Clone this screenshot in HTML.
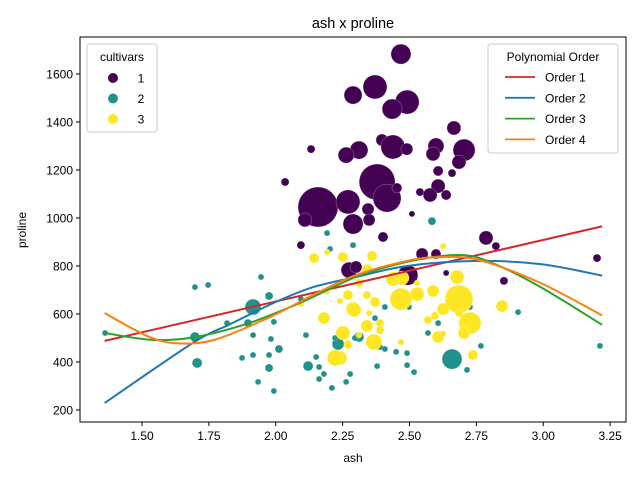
<!DOCTYPE html>
<html><head><meta charset="utf-8"><style>
body{margin:0;background:#fff;}
svg{display:block;font-family:"Liberation Sans","DejaVu Sans",sans-serif;}
</style></head><body>
<svg id="chart" width="640" height="480"></svg>
<script>
const ashC1=[2.468,2.371,2.289,2.491,2.435,2.666,2.132,2.311,2.263,2.397,2.438,2.49,2.599,2.588,2.704,2.685,2.607,2.659,2.035,2.379,2.416,2.453,2.607,2.539,2.577,2.637,2.158,2.27,2.345,2.109,2.289,2.349,2.509,2.401,2.094,2.786,2.823,2.547,2.599,3.201,2.274,2.3,2.494,2.637,2.853,2.289];
const proC1=[1683,1546,1512,1483,1454,1375,1287,1283,1262,1325,1296,1287,1300,1267,1283,1233,1196,1187,1150,1150,1083,1125,1133,1108,1096,1096,1046,1067,1037,992,975,992,1017,921,887,917,883,850,850,833,783,796,762,771,738,887];
const sizeC1=[10,12,9,12,10,7,4,9,8,6,12,6,8,7,11,7,5,4,4,18,14,5,7,4,7,5,20,12,6,7,10,6,3,5,4,7,4,6,5,4,8,6,10,3,4,3];
const ashC2=[2.192,2.203,2.289,1.698,1.747,1.945,1.975,1.915,2.094,1.818,1.896,1.362,1.698,1.915,1.993,1.982,2.113,2.012,1.874,1.915,1.975,1.706,1.975,2.121,2.151,2.162,2.18,2.162,2.21,1.934,1.993,2.263,2.278,2.233,2.222,2.311,2.408,2.498,2.371,2.607,2.569,2.726,2.906,2.296,2.39,2.408,2.45,2.491,2.767,3.212,2.659,2.379,2.491,2.517,2.715,2.584];
const proC2=[937,871,887,712,721,754,675,629,662,562,562,521,504,512,567,496,512,454,417,429,429,396,375,383,421,379,350,329,292,317,279,317,350,475,500,504,629,629,583,562,521,629,608,500,462,454,442,437,467,467,412,383,387,358,367,987];
const sizeC2=[3,3,3,3,3,3,4,8,3,3,4,3,5,3,3,3,3,4,3,3,3,5,4,5,3,3,3,3,3,3,3,3,3,6,3,5,3,3,3,3,3,3,3,3,3,3,3,3,3,3,10,3,3,3,3,4];
const ashC3=[2.626,2.251,2.36,2.341,2.472,2.438,2.678,2.311,2.528,2.588,2.528,2.468,2.685,2.27,2.341,2.371,2.289,2.626,2.846,2.349,2.569,2.595,2.685,2.726,2.704,2.341,2.39,2.39,2.251,2.607,2.626,2.367,2.468,2.311,2.27,2.737,2.24,2.143,2.192,2.24,2.293,2.18,2.094,2.222,2.27,2.192];
const proC3=[883,837,842,787,750,746,754,729,729,696,683,662,662,679,679,650,621,621,633,604,575,592,604,562,521,550,562,533,521,504,517,483,483,512,475,429,417,833,858,654,617,583,642,417,471,696];
const sizeC3=[3,5,5,5,7,7,7,4,3,6,7,11,14,5,4,5,7,6,6,3,4,4,4,11,6,6,4,4,7,6,3,8,3,3,4,5,7,5,3,3,7,6,3,8,4,3];
const fitX1=[1.36,3.22];
const fitY1=[488,965];
const fitX2=[1.36,1.69,1.83,2.0,2.14,2.3,2.49,2.74,2.99,3.22];
const fitY2=[229,479,558,650,712,754,800,821,808,760];
const fitX3=[1.36,1.54,1.7,1.9,2.09,2.3,2.49,2.68,2.8,2.99,3.22];
const fitY3=[521,492,504,562,646,754,817,846,817,712,555];
const fitX4=[1.36,1.52,1.63,1.77,1.97,2.14,2.3,2.49,2.61,2.76,2.99,3.22];
const fitY4=[604,508,478,492,583,679,762,821,837,825,729,594];
const xTicks=[1.5,1.75,2.0,2.25,2.5,2.75,3.0,3.25];
const xTickLabels=["1.50","1.75","2.00","2.25","2.50","2.75","3.00","3.25"];
const yTicks=[200,400,600,800,1000,1200,1400,1600];
const yTickLabels=["200","400","600","800","1000","1200","1400","1600"];

const NS="http://www.w3.org/2000/svg";
const svg=document.getElementById('chart');
const L=80,R=626,T=37,B=422;
function sx(v){return 142+(v-1.5)*267.5;}
function sy(v){return 410-(v-200)*0.24;}
function mk(tag,attrs,parent){const e=document.createElementNS(NS,tag);for(const k in attrs)e.setAttribute(k,attrs[k]);(parent||svg).appendChild(e);return e;}

const t=mk('text',{x:353,y:28,'text-anchor':'middle','font-size':14.5,fill:'#000'});t.textContent='ash x proline';



const pts=mk('g',{});


function drawClass(xs,ys,ss,col,name){
  for(let i=0;i<xs.length;i++){
    const c=mk('circle',{cx:sx(xs[i]),cy:sy(ys[i]),r:ss[i],fill:col,stroke:'#fff','stroke-width':0.4,'stroke-opacity':0.6},pts);
    
    
  }
}
drawClass(ashC1,proC1,sizeC1,'#440154','point-cultivar-1');
drawClass(ashC2,proC2,sizeC2,'#21918c','point-cultivar-2');
drawClass(ashC3,proC3,sizeC3,'#fde725','point-cultivar-3');

function line(xs,ys,col,name){
  const P=xs.map((x,i)=>[sx(x),sy(ys[i])]);
  let d='M'+P[0][0].toFixed(1)+','+P[0][1].toFixed(1);
  for(let i=0;i<P.length-1;i++){
    const p0=P[Math.max(0,i-1)],p1=P[i],p2=P[i+1],p3=P[Math.min(P.length-1,i+2)];
    const c1=[p1[0]+(p2[0]-p0[0])/6,p1[1]+(p2[1]-p0[1])/6];
    const c2=[p2[0]-(p3[0]-p1[0])/6,p2[1]-(p3[1]-p1[1])/6];
    d+='C'+c1[0].toFixed(1)+','+c1[1].toFixed(1)+' '+c2[0].toFixed(1)+','+c2[1].toFixed(1)+' '+p2[0].toFixed(1)+','+p2[1].toFixed(1);
  }
  const p=mk('path',{d:d,fill:'none',stroke:col,'stroke-width':2,'stroke-linejoin':'round'});
  
  
}
line(fitX1,fitY1,'#d62728','fit-order-1');
line(fitX2,fitY2,'#1f77b4','fit-order-2');
line(fitX3,fitY3,'#2ca02c','fit-order-3');
line(fitX4,fitY4,'#ff7f0e','fit-order-4');

const frame=mk('rect',{x:L,y:T,width:R-L,height:B-T,fill:'none',stroke:'#000','stroke-width':1});



for(let i=0;i<xTicks.length;i++){
  const x=sx(xTicks[i]);
  mk('line',{x1:x,x2:x,y1:B,y2:B+4,stroke:'#000'});
  const tx=mk('text',{x:x,y:B+18,'text-anchor':'middle','font-size':12});tx.textContent=xTickLabels[i];
  
  
}
for(let i=0;i<yTicks.length;i++){
  const y=sy(yTicks[i]);
  mk('line',{x1:L-4,x2:L,y1:y,y2:y,stroke:'#000'});
  const ty=mk('text',{x:L-7,y:y+4.5,'text-anchor':'end','font-size':12});ty.textContent=yTickLabels[i];
  
  
}
const xl=mk('text',{x:353,y:462,'text-anchor':'middle','font-size':12});xl.textContent='ash';


const yl=mk('text',{x:0,y:0,'text-anchor':'middle','font-size':12,transform:'translate(26,230) rotate(-90)'});yl.textContent='proline';



const lg1=mk('g',{});


mk('rect',{x:87,y:44,width:70,height:88,rx:3,fill:'#fff','fill-opacity':0.8,stroke:'#ccc'},lg1);
const lt1=mk('text',{x:122,y:61,'text-anchor':'middle','font-size':12},lg1);lt1.textContent='cultivars';
const lcols=['#440154','#21918c','#fde725'];
for(let i=0;i<3;i++){
  const g=mk('g',{},lg1);
  
  
  mk('circle',{cx:113,cy:78+i*20.5,r:5,fill:lcols[i]},g);
  const tt=mk('text',{x:141,y:82.5+i*20.5,'text-anchor':'middle','font-size':12},g);tt.textContent=String(i+1);
}
const lg2=mk('g',{});


mk('rect',{x:488,y:44,width:130,height:109,rx:3,fill:'#fff','fill-opacity':0.8,stroke:'#ccc'},lg2);
const lt2=mk('text',{x:553,y:61,'text-anchor':'middle','font-size':12},lg2);lt2.textContent='Polynomial Order';
const pcols=['#d62728','#1f77b4','#2ca02c','#ff7f0e'];
for(let i=0;i<4;i++){
  const g=mk('g',{},lg2);
  
  
  const y=77+i*20.8;
  mk('line',{x1:505,x2:535,y1:y,y2:y,stroke:pcols[i],'stroke-width':1.8},g);
  const tt=mk('text',{x:545,y:y+4.5,'font-size':12},g);tt.textContent='Order '+(i+1);
}
</script>
</body></html>
